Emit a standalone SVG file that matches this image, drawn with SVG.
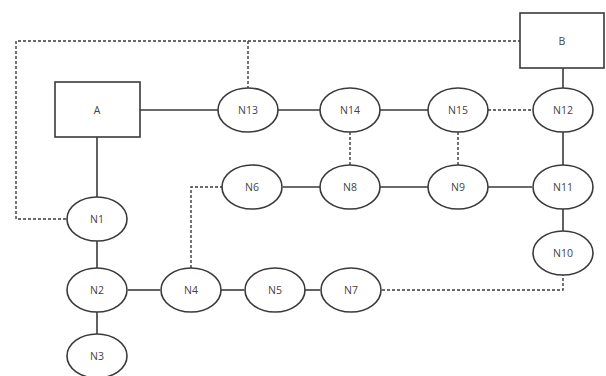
<svg xmlns="http://www.w3.org/2000/svg" width="606" height="376" viewBox="0 0 606 376">
<style>
.n{fill:#fff;stroke:#3a3a3a;stroke-width:1.6}
.t{font-family:"Open Sans","Liberation Sans",sans-serif;font-size:10.5px;fill:#444;text-anchor:middle;dominant-baseline:central}
.s{fill:none;stroke:#3a3a3a;stroke-width:1.6}
.d{fill:none;stroke:#3a3a3a;stroke-width:1.4;stroke-dasharray:3 2}
</style>
<rect width="606" height="376" fill="#fff"/>
<g id="connectors">
<path class="d" d="M521 41H16V219H67"/>
<path class="d" d="M248 41V88"/>
<path class="s" d="M140 110H218"/>
<path class="s" d="M278 110H320"/>
<path class="s" d="M380 110H428"/>
<path class="d" d="M488 110H532"/>
<path class="s" d="M563 68V88"/>
<path class="d" d="M350 132V165"/>
<path class="d" d="M458 132V165"/>
<path class="s" d="M563 132V165"/>
<path class="s" d="M283 187H320"/>
<path class="s" d="M380 187H428"/>
<path class="s" d="M488 187H532"/>
<path class="s" d="M563 209V231"/>
<path class="d" d="M191 268V187H222"/>
<path class="s" d="M97 137V197"/>
<path class="s" d="M97 241V268"/>
<path class="s" d="M97 312V334"/>
<path class="s" d="M128 290H160"/>
<path class="s" d="M221 290H244"/>
<path class="s" d="M305 290H320"/>
<path class="d" d="M382 290H563V275"/>
</g>
<g id="A"><rect class="n" x="55" y="82" width="85" height="55"/><text class="t" x="97" y="110">A</text></g>
<g id="B"><rect class="n" x="520" y="13" width="84" height="55"/><text class="t" x="562" y="41">B</text></g>
<g id="N13"><ellipse class="n" cx="248" cy="110" rx="30" ry="22"/><text class="t" x="248" y="110">N13</text></g>
<g id="N14"><ellipse class="n" cx="350" cy="110" rx="30" ry="22"/><text class="t" x="350" y="110">N14</text></g>
<g id="N15"><ellipse class="n" cx="458" cy="110" rx="30" ry="22"/><text class="t" x="458" y="110">N15</text></g>
<g id="N12"><ellipse class="n" cx="563" cy="110" rx="30" ry="22"/><text class="t" x="563" y="110">N12</text></g>
<g id="N6"><ellipse class="n" cx="252" cy="187" rx="30" ry="22"/><text class="t" x="252" y="187">N6</text></g>
<g id="N8"><ellipse class="n" cx="350" cy="187" rx="30" ry="22"/><text class="t" x="350" y="187">N8</text></g>
<g id="N9"><ellipse class="n" cx="458" cy="187" rx="30" ry="22"/><text class="t" x="458" y="187">N9</text></g>
<g id="N11"><ellipse class="n" cx="563" cy="187" rx="30" ry="22"/><text class="t" x="563" y="187">N11</text></g>
<g id="N1"><ellipse class="n" cx="97" cy="219" rx="30" ry="22"/><text class="t" x="97" y="219">N1</text></g>
<g id="N10"><ellipse class="n" cx="563" cy="253" rx="30" ry="22"/><text class="t" x="563" y="253">N10</text></g>
<g id="N2"><ellipse class="n" cx="97" cy="290" rx="30" ry="22"/><text class="t" x="97" y="290">N2</text></g>
<g id="N4"><ellipse class="n" cx="191" cy="290" rx="30" ry="22"/><text class="t" x="191" y="290">N4</text></g>
<g id="N5"><ellipse class="n" cx="275" cy="290" rx="30" ry="22"/><text class="t" x="275" y="290">N5</text></g>
<g id="N7"><ellipse class="n" cx="351" cy="290" rx="30" ry="22"/><text class="t" x="351" y="290">N7</text></g>
<g id="N3"><ellipse class="n" cx="97" cy="356" rx="30" ry="22"/><text class="t" x="97" y="356">N3</text></g>
</svg>
